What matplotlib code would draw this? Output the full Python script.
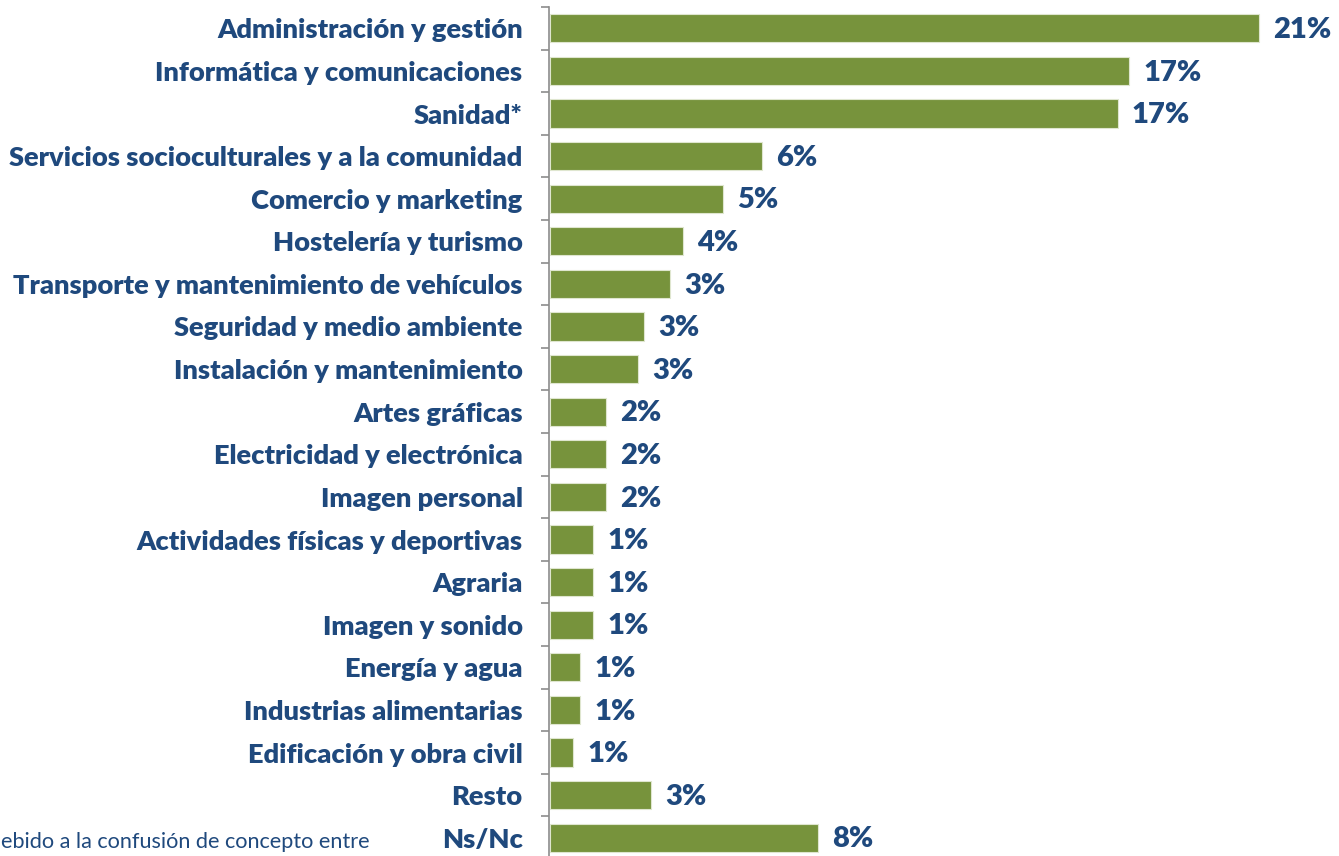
import matplotlib.pyplot as plt

categorias = [
    "Administración y gestión",
    "Informática y comunicaciones",
    "Sanidad*",
    "Servicios socioculturales y a la comunidad",
    "Comercio y marketing",
    "Hostelería y turismo",
    "Transporte y mantenimiento de vehículos",
    "Seguridad y medio ambiente",
    "Instalación y mantenimiento",
    "Artes gráficas",
    "Electricidad y electrónica",
    "Imagen personal",
    "Actividades físicas y deportivas",
    "Agraria",
    "Imagen y sonido",
    "Energía y agua",
    "Industrias alimentarias",
    "Edificación y obra civil",
    "Resto",
    "Ns/Nc",
]
valores = [21.0, 17.15, 16.8, 6.28, 5.1, 3.94, 3.55, 2.78, 2.6, 1.66, 1.66, 1.66,
           1.27, 1.27, 1.27, 0.89, 0.89, 0.68, 2.99, 7.94]
etiquetas = ["21%", "17%", "17%", "6%", "5%", "4%", "3%", "3%", "3%", "2%", "2%", "2%",
             "1%", "1%", "1%", "1%", "1%", "1%", "3%", "8%"]
nota = "ebido a la confusión de concepto entre"

verde = "#77933C"
azul = "#1F497D"

W, H = 1339, 856
fig = plt.figure(figsize=(W / 100, H / 100), dpi=100)
# axis line at x=549px, top at y=7px, 42.6 px per category
ax = fig.add_axes([549 / W, 1 - 859 / H, (1258 - 549) / W * 24 / 21, 852 / H])

y = list(range(len(categorias)))
ax.barh(y, valores, height=0.66, color=verde, edgecolor="#dfe6cf", linewidth=0.8, left=0.04)
ax.set_ylim(len(categorias) - 0.5, -0.5)
ax.set_xlim(0, 24)

for yi, v, t in zip(y, valores, etiquetas):
    ax.text(v + 0.04 + 0.42, yi + 0.04, t, va="center", ha="left",
            fontsize=21, fontweight="heavy", color=azul, family="Lato")

ax.set_yticks([i + 0.5 for i in range(-1, len(categorias))])
ax.set_yticklabels([])
ax.set_yticks(y, minor=True)
ax.set_yticklabels(categorias, minor=True, fontsize=19.6, fontweight="heavy",
                   color=azul, family="Lato")
ax.tick_params(axis="y", which="minor", length=0, pad=19)
ax.tick_params(axis="y", which="major", length=6, color="#8c8c8c", width=1.2)
ax.set_xticks([])
for s in ["top", "right", "bottom"]:
    ax.spines[s].set_visible(False)
ax.spines["left"].set_color("#8c8c8c")
ax.spines["left"].set_linewidth(1.2)

fig.text(370 / W, 1 - 842 / H, nota, ha="right", va="center", fontsize=15.6,
         color=azul, family="Lato")

fig.savefig("out.png", dpi=100)
